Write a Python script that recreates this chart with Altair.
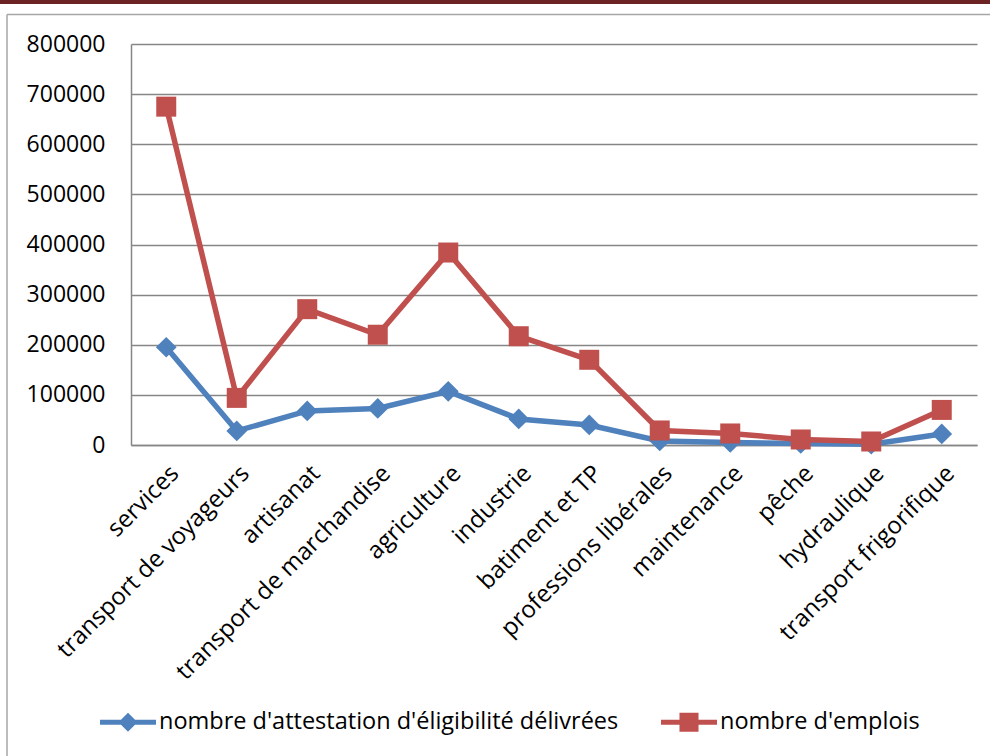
import altair as alt
import pandas as pd

# Categories along the x axis
categories = [
    "services", "transport de voyageurs", "artisanat", "transport de marchandise",
    "agriculture", "industrie", "batiment et TP", "professions libérales",
    "maintenance", "pêche", "hydraulique", "transport frigorifique",
]
# Series values, one per category
attestations = [195000, 28000, 68000, 73000, 107000, 52000, 40000, 8000, 5000, 3000, 1500, 22000]
emplois = [675000, 94000, 271000, 220000, 384000, 217000, 170000, 29000, 23000, 11000, 7000, 70000]

series_names = ["nombre d'attestation d'éligibilité délivrées", "nombre d'emplois"]
series_colors = ["#4F81BD", "#C0504D"]
series_markers = ["diamond", "square"]
series_sizes = [430, 400]
y_ticks = [0, 100000, 200000, 300000, 400000, 500000, 600000, 700000, 800000]

rows = []
for name, values in zip(series_names, [attestations, emplois]):
    for cat, v in zip(categories, values):
        rows.append({"categorie": cat, "serie": name, "valeur": v})
df = pd.DataFrame(rows)

FONT = "Open Sans"
GRID = "#868686"

# legend symbols: a short line with the series marker on it
LINE_DIAMOND = "M-1,-0.09H1V0.09H-1Z M0,-0.34L0.34,0L0,0.34L-0.34,0Z"
LINE_SQUARE = "M-1,-0.09H1V0.09H-1Z M-0.34,-0.34H0.34V0.34H-0.34Z"

legend = alt.Legend(
    title=None,
    orient="none",
    legendX=-31,
    legendY=650,
    direction="horizontal",
    labelFont=FONT,
    labelFontSize=23.5,
    labelColor="black",
    labelLimit=0,
    labelOffset=3,
    symbolSize=3136,
    symbolStrokeWidth=0,
    symbolOpacity=1,
    columnPadding=42,
    padding=0,
)

x_enc = alt.X(
    "categorie:N",
    sort=categories,
    title=None,
    axis=alt.Axis(
        labelAngle=-45,
        labelAlign="right",
        labelBaseline="top",
        labelPadding=16,
        labelFont=FONT,
        labelFontSize=24,
        labelColor="black",
        labelLimit=0,
        ticks=False,
        domainColor=GRID,
        domainWidth=1.5,
        grid=False,
    ),
)
y_enc = alt.Y(
    "valeur:Q",
    title=None,
    scale=alt.Scale(domain=[0, 800000], nice=False, zero=True),
    axis=alt.Axis(
        values=y_ticks,
        format="d",
        labelFont=FONT,
        labelFontSize=23,
        labelColor="black",
        labelPadding=26,
        ticks=False,
        domainColor=GRID,
        domainWidth=1.5,
        gridColor=GRID,
        gridWidth=1.5,
    ),
)
color_scale = alt.Scale(domain=series_names, range=series_colors)
color_plain = alt.Color("serie:N", scale=color_scale, legend=None)
color_legend = alt.Color("serie:N", scale=color_scale, legend=legend)

base = alt.Chart(df)

# legend carrier: points pushed outside the clipped plot, only their legend shows
legend_layer = base.mark_point(filled=True, clip=True, size=3136, opacity=1).encode(
    x=x_enc,
    y=alt.value(-3000),
    color=color_legend,
    shape=alt.Shape(
        "serie:N",
        scale=alt.Scale(domain=series_names, range=[LINE_DIAMOND, LINE_SQUARE]),
    ),
)


def series_layers(name, marker, size):
    sub = base.transform_filter(alt.datum.serie == name)
    line = sub.mark_line(strokeWidth=5.5).encode(x=x_enc, y=y_enc, color=color_plain)
    pts = sub.mark_point(filled=True, opacity=1, shape=marker, size=size).encode(
        x=x_enc, y=y_enc, color=color_plain
    )
    return [line, pts]


# page decoration: dark top band and light frame
frame_df = pd.DataFrame({"k": [0]})
top_band = alt.Chart(frame_df).mark_rule(color="#6B2324", strokeWidth=4).encode(
    x=alt.value(-131), x2=alt.value(859), y=alt.value(-42)
)
frame_top = alt.Chart(frame_df).mark_rule(color="#A6A6A6", strokeWidth=1.5).encode(
    x=alt.value(-124), x2=alt.value(859), y=alt.value(-29.5)
)
frame_left = alt.Chart(frame_df).mark_rule(color="#A6A6A6", strokeWidth=1.5).encode(
    x=alt.value(-124), y=alt.value(-29.5), y2=alt.value(720)
)

layers = [legend_layer, top_band, frame_top, frame_left]
for n, m, s in zip(series_names, series_markers, series_sizes):
    layers += series_layers(n, m, s)

chart = alt.layer(*layers).properties(
    width=846,
    height=401,
    padding={"left": 131, "top": 44, "right": 13, "bottom": 311},
    autosize=alt.AutoSizeParams(type="none"),
    background="white",
).configure_view(stroke=None)

chart.save("out.html", embed_options={"renderer": "svg", "actions": False})
